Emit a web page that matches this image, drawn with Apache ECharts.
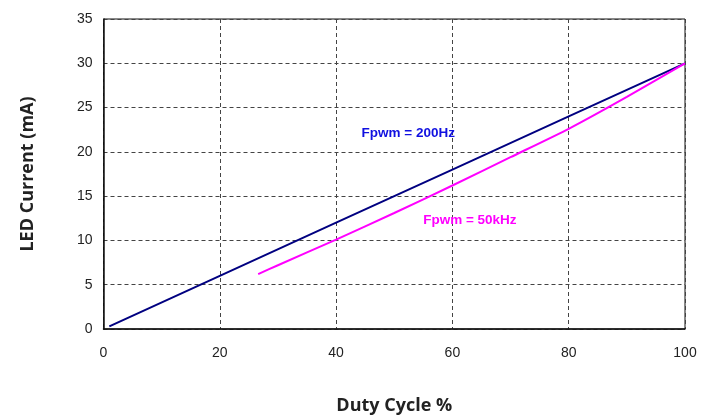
<!DOCTYPE html>
<html>
<head>
<meta charset="utf-8">
<script src="https://cdn.jsdelivr.net/npm/echarts@6/dist/echarts.min.js"></script>
<style>html,body{margin:0;padding:0;background:#fff}#c{width:713px;height:416px}</style>
</head>
<body>
<div id="c"></div>
<script>
const xTicks = [0, 20, 40, 60, 80, 100];
const yTicks = [0, 5, 10, 15, 20, 25, 30, 35];
const duty200 = [1, 20, 40, 60, 80, 100];
const current200 = [0.3, 6.0, 12.0, 18.0, 24.0, 30.0];
const duty50k = [26.6, 30, 40, 50, 60, 70, 80, 90, 100];
const current50k = [6.2, 7.2, 10.1, 13.1, 16.2, 19.4, 22.6, 26.2, 30.0];
const label200 = {text: 'Fpwm = 200Hz', x: 52.4, y: 22.1};
const label50k = {text: 'Fpwm = 50kHz', x: 63.0, y: 12.3};

const chart = echarts.init(document.getElementById('c'));
const tickFont = {fontFamily: "'Liberation Sans'", fontSize: 14, color: '#222'};
const titleFont = {fontFamily: "'Open Sans'", fontWeight: 'bold', fontSize: 18, color: '#222'};
const noteFont = {fontWeight: 'bold', fontSize: 13.5, fontFamily: "'Liberation Sans'"};
chart.setOption({
  animation: false,
  grid: {left: 103.5, right: 28, top: 19, bottom: 87, outerBoundsMode: 'none', containLabel: false,
         show: true, borderColor: '#111', borderWidth: 1},
  xAxis: {
    type: 'value', min: xTicks[0], max: xTicks[xTicks.length - 1], interval: 20,
    name: 'Duty Cycle %', nameLocation: 'middle', nameGap: 68,
    nameTextStyle: titleFont,
    axisLine: {show: true, lineStyle: {color: '#111', width: 1.5}},
    axisTick: {show: false},
    axisLabel: Object.assign({margin: 17}, tickFont),
    splitLine: {show: true, lineStyle: {type: [4, 3], color: '#444', width: 1}}
  },
  yAxis: {
    type: 'value', min: yTicks[0], max: yTicks[yTicks.length - 1], interval: 5,
    name: 'LED Current (mA)', nameLocation: 'middle', nameGap: 67,
    nameTextStyle: titleFont,
    axisLine: {show: true, lineStyle: {color: '#111', width: 1.5}},
    axisTick: {show: false},
    axisLabel: Object.assign({margin: 11}, tickFont),
    splitLine: {show: true, lineStyle: {type: [4, 3], color: '#444', width: 1}}
  },
  series: [
    {
      type: 'line', data: duty200.map((d, i) => [d, current200[i]]),
      symbol: 'none', lineStyle: {color: '#000080', width: 2},
      markPoint: {
        symbol: 'circle', symbolSize: 0,
        data: [{coord: [label200.x, label200.y], label: Object.assign({show: true, formatter: label200.text, position: 'inside', color: '#1010e0'}, noteFont)}]
      }
    },
    {
      type: 'line', data: duty50k.map((d, i) => [d, current50k[i]]), smooth: 0.2,
      symbol: 'none', lineStyle: {color: '#ff00ff', width: 2},
      markPoint: {
        symbol: 'circle', symbolSize: 0,
        data: [{coord: [label50k.x, label50k.y], label: Object.assign({show: true, formatter: label50k.text, position: 'inside', color: '#ff00ff'}, noteFont)}]
      }
    }
  ]
});
</script>
</body>
</html>
